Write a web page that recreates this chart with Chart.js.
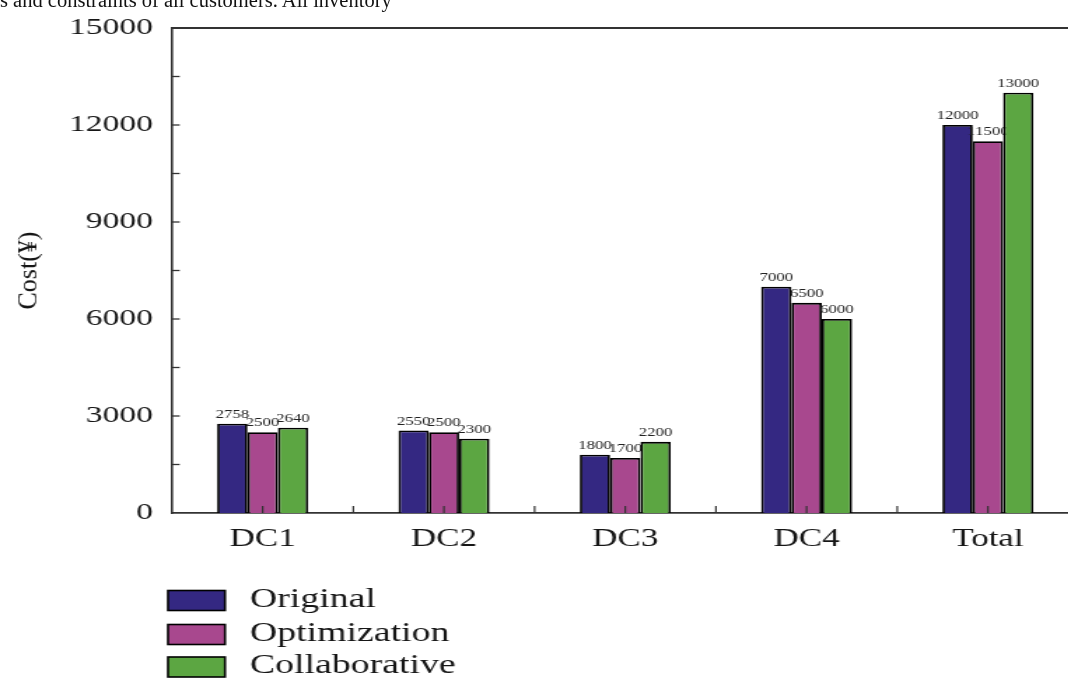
<!DOCTYPE html>
<html>
<head>
<meta charset="utf-8">
<script src="https://cdn.jsdelivr.net/npm/chart.js@4.4.1/dist/chart.umd.min.js"></script>
<style>
  html, body { margin: 0; padding: 0; background: #fff; overflow: hidden; width: 1068px; height: 678px; }
  /* the figure is drawn narrow and widened horizontally */
  #stage { position: absolute; left: 0; top: 0; width: 780px; height: 678px; transform: scaleX(1.4); transform-origin: 0 0; }
  #lead { position: absolute; left: 0; top: -10px; font: 20.5px/1 "Liberation Serif", serif; color: #111; white-space: nowrap; }
  canvas { position: absolute; left: 0; top: 0; }
</style>
</head>
<body>
<div id="stage">
  <canvas id="c" width="780" height="678"></canvas>
</div>
<div id="lead">s and constraints of all customers. All inventory</div>
<script>
// Cost per distribution centre for the three strategies
const categories = ['DC1', 'DC2', 'DC3', 'DC4', 'Total'];
const seriesNames = ['Original', 'Optimization', 'Collaborative'];
const original = [2758, 2550, 1800, 7000, 12000];
const optimization = [2500, 2500, 1700, 6500, 11500];
const collaborative = [2640, 2300, 2200, 6000, 13000];
const yTicks = [0, 3000, 6000, 9000, 12000, 15000];
const yMinorStep = 1500;
const seriesColors = ['#342882', '#A8488E', '#5CA642'];
const axisTitle = 'Cost(¥)';

const SX = 1.4;                 // horizontal widening of the stage
const SERIF = '"Liberation Serif", "DejaVu Serif", serif';
const AXIS_COLOR = '#333';
const TEXT_COLOR = '#161616';

Chart.defaults.font.family = SERIF;
Chart.defaults.color = TEXT_COLOR;

function drawValueLabels(chart, meta, ds) {
  const ctx = chart.ctx;
  ctx.save();
  ctx.font = '12px ' + SERIF;
  ctx.fillStyle = '#222';
  ctx.textAlign = 'center';
  ctx.textBaseline = 'alphabetic';
  meta.data.forEach((bar, i) => {
    ctx.fillText(String(ds.data[i]), bar.x, bar.y - 6);
  });
  ctx.restore();
}

// paint the series left to right, each followed by its value labels,
// so later bars overlap the labels of the earlier ones
const seriesPainter = {
  id: 'seriesPainter',
  beforeDatasetsDraw(chart) {
    chart.data.datasets.forEach((ds, i) => {
      const meta = chart.getDatasetMeta(i);
      if (!meta.visible) return;
      meta.controller.draw();
      drawValueLabels(chart, meta, ds);
    });
    return false;
  }
};

// inward tick marks, the top frame line, the rotated axis title and the legend
const frameAndLegend = {
  id: 'frameAndLegend',
  afterDraw(chart) {
    const ctx = chart.ctx;
    const { left, right, top, bottom } = chart.chartArea;
    const y = chart.scales.y, x = chart.scales.x;
    ctx.save();
    ctx.strokeStyle = AXIS_COLOR;
    // top frame line
    ctx.lineWidth = 1.8;
    ctx.beginPath();
    ctx.moveTo(left, top);
    ctx.lineTo(right, top);
    ctx.stroke();
    // y ticks pointing into the plot
    ctx.lineWidth = 1.3;
    for (let v = yMinorStep; v < y.max; v += yMinorStep) {
      const py = y.getPixelForValue(v);
      ctx.beginPath();
      ctx.moveTo(left, py);
      ctx.lineTo(left + 5.5, py);
      ctx.stroke();
    }
    // x ticks at category centres and between categories
    ctx.lineWidth = 1.2;
    const marks = [];
    categories.forEach((c, i) => {
      marks.push(x.getPixelForValue(i));
      if (i < categories.length - 1) marks.push((x.getPixelForValue(i) + x.getPixelForValue(i + 1)) / 2);
    });
    marks.forEach(px => {
      ctx.beginPath();
      ctx.moveTo(px, bottom);
      ctx.lineTo(px, bottom - 7);
      ctx.stroke();
    });
    ctx.restore();

    // axis title, kept at natural proportions
    ctx.save();
    ctx.translate(30 / SX, (top + bottom) / 2);
    ctx.scale(1 / SX, 1);
    ctx.rotate(-Math.PI / 2);
    ctx.font = '26px ' + SERIF;
    ctx.fillStyle = TEXT_COLOR;
    ctx.textAlign = 'center';
    ctx.textBaseline = 'middle';
    ctx.fillText(axisTitle, 0, 0);
    ctx.restore();

    // legend stacked below the plot
    ctx.save();
    const boxX = 168 / SX, boxW = 57 / SX, boxH = 20;
    const textX = 250 / SX;
    const rowY = [600.5, 634.5, 667];
    ctx.font = '27px ' + SERIF;
    ctx.textAlign = 'left';
    ctx.textBaseline = 'middle';
    chart.data.datasets.forEach((ds, i) => {
      const cy = rowY[i];
      ctx.fillStyle = ds.backgroundColor;
      ctx.fillRect(boxX, cy - boxH / 2, boxW, boxH);
      ctx.lineWidth = 1.6;
      ctx.strokeStyle = '#000';
      ctx.strokeRect(boxX, cy - boxH / 2, boxW, boxH);
      ctx.fillStyle = TEXT_COLOR;
      ctx.fillText(ds.label, textX, cy - 1);
    });
    ctx.restore();
  }
};

const seriesData = [original, optimization, collaborative];
const datasets = seriesNames.map((name, i) => ({
  label: name,
  data: seriesData[i],
  backgroundColor: seriesColors[i],
  borderColor: '#000',
  borderWidth: 1.8,
  borderSkipped: 'start',
  categoryPercentage: 0.502,
  barPercentage: 1.0
}));

new Chart(document.getElementById('c'), {
  type: 'bar',
  data: { labels: categories, datasets },
  plugins: [seriesPainter, frameAndLegend],
  options: {
    responsive: false,
    animation: false,
    devicePixelRatio: 1,
    layout: { padding: { top: 24, right: 9.6, left: 0, bottom: 0 } },
    plugins: { legend: { display: false }, tooltip: { enabled: false } },
    scales: {
      x: {
        grid: { display: false, drawTicks: false },
        border: { display: true, color: AXIS_COLOR, width: 1.8 },
        ticks: { font: { size: 25 }, color: TEXT_COLOR, padding: 11 },
        afterFit(s) { s.height = 678 - 513; }
      },
      y: {
        min: 0,
        max: 15000,
        grid: { display: false, drawTicks: false },
        border: { display: true, color: AXIS_COLOR, width: 1.6 },
        ticks: { font: { size: 24 }, color: TEXT_COLOR, padding: 13.6, callback: v => String(v) },
        afterBuildTicks(s) { s.ticks = yTicks.map(v => ({ value: v })); },
        afterFit(s) { s.width = 172 / SX; }
      }
    }
  }
});
</script>
</body>
</html>
